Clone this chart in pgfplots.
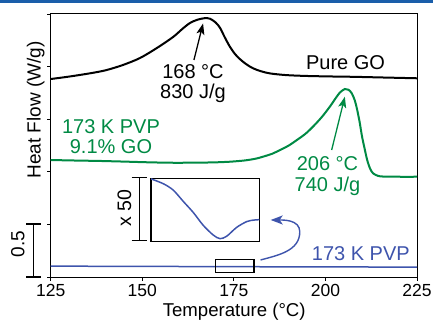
\documentclass[border=0pt]{standalone}
\usepackage{fontspec}
\setmainfont{Liberation Sans}
\usepackage{pgfplots}
\pgfplotsset{compat=1.18}
\usetikzlibrary{arrows.meta}
\definecolor{gocolor}{RGB}{0,138,68}
\definecolor{pvpblue}{RGB}{62,84,172}
\definecolor{headblue}{RGB}{26,94,170}
\begin{document}
\begin{tikzpicture}[x=1pt,y=1pt]
\useasboundingbox (0,0) rectangle (433,321);
\fill[headblue] (0,318.4) rectangle (433,321);
\begin{axis}[
  at={(50.7pt,44pt)}, anchor=south west, scale only axis,
  width=366.3pt, height=263pt,
  xmin=125, xmax=225, ymin=0, ymax=2.5,
  xtick={125,150,175,200,225}, ytick={0,0.5,1,1.5,2,2.5}, yticklabels={},
  tick align=outside, xtick pos=bottom, ytick pos=left, major tick length=3.5pt,
  tick style={black, line width=0.9pt},
  axis line style={line width=1pt},
  /pgf/number format/assume math mode=true,
  ticklabel style={font=\fontsize{17.5}{18}\selectfont},
  clip=false,
]
% Pure GO
\addplot[black, line width=2pt, smooth] coordinates {
(125,1.882) (130,1.905) (135.7,1.936) (140,1.965) (144.7,2.015) (149.4,2.082)
(154,2.177) (158.4,2.281) (161,2.36) (163,2.414) (165,2.445) (167,2.460)
(168.5,2.455) (170,2.42) (171.2,2.37) (172.5,2.28) (173.9,2.19) (175.3,2.12)
(176.7,2.07) (178.5,2.02) (180.3,1.983) (182.5,1.955) (184.9,1.935) (189,1.920)
(193.9,1.912) (200,1.907) (207.5,1.903) (215,1.897) (225,1.889)
};
% 173 K PVP 9.1% GO
\addplot[gocolor, line width=2pt, smooth] coordinates {
(125,1.112) (132,1.107) (138.5,1.103) (145,1.097) (152,1.090) (158.4,1.086)
(165,1.087) (170,1.090) (174,1.096) (178,1.108) (181,1.125) (183,1.144)
(185.5,1.172) (187.6,1.207) (190,1.25) (192.2,1.302) (194.5,1.36) (196.6,1.429)
(199,1.52) (201.2,1.619) (203,1.71) (204,1.755) (205.3,1.787) (206.3,1.78)
(207.2,1.746) (208,1.68) (208.6,1.60) (209.3,1.48) (210,1.334) (210.7,1.22)
(211.4,1.112) (212.2,1.03) (213,0.986) (214.3,0.962) (215.7,0.955) (220,0.953)
(225,0.953)
};
% 173 K PVP
\addplot[pvpblue, line width=1.5pt] coordinates {
(125,0.103) (150,0.101) (175,0.098) (200,0.096) (225,0.094)
};
\draw[line width=1.2pt] (axis cs:170,0.045) rectangle (axis cs:180.5,0.168);
\draw[pvpblue, line width=1.4pt, -{Stealth[length=12pt,width=9pt,inset=3pt]}]
  (axis cs:182.3,0.162) to[out=15,in=-90] (axis cs:193.0,0.43)
  to[out=90,in=0] (axis cs:185.06,0.542);
\draw[black, line width=1.3pt, -{Stealth[length=11pt,width=8pt,inset=2.5pt]}]
  (axis cs:164.1,2.063) -- (axis cs:166.6,2.41);
\draw[gocolor, line width=1.3pt, -{Stealth[length=11pt,width=8pt,inset=2.5pt]}]
  (axis cs:201.7,1.207) -- (axis cs:205.3,1.714);
\tikzset{ann/.style={anchor=base, inner sep=0pt, font=\fontsize{20}{21}\selectfont}}
\node[ann] at (axis cs:163.85,1.889) {168 °C};
\node[ann] at (axis cs:163.85,1.699) {830 J/g};
\node[ann] at (axis cs:205.5,1.977) {Pure GO};
\node[ann, text=gocolor] at (axis cs:141.46,1.366) {173 K PVP};
\node[ann, text=gocolor] at (axis cs:141.46,1.176) {9.1\% GO};
\node[ann, text=gocolor] at (axis cs:200.57,1.008) {206 °C};
\node[ann, text=gocolor] at (axis cs:200.57,0.817) {740 J/g};
\node[ann, text=pvpblue] at (axis cs:209.66,0.155) {173 K PVP};
\end{axis}
\begin{axis}[
  at={(151pt,79.3pt)}, anchor=south west, scale only axis,
  width=108.3pt, height=63.4pt,
  xmin=170, xmax=180, ymin=-0.03, ymax=1.01,
  xtick=\empty, ytick=\empty,
  axis line style={line width=1.2pt},
]
\addplot[pvpblue, line width=1.5pt, smooth] coordinates {
(170,1.0) (171.14,0.921) (172.06,0.815) (172.98,0.631) (173.91,0.448)
(174.83,0.237) (175.75,0.079) (176.37,0.02) (176.99,0.06) (177.91,0.205)
(178.84,0.300) (179.5,0.325) (180,0.331)
};
\end{axis}
% scale bars and labels
\draw[line width=1.1pt] (33.3,44) -- (33.3,97) (26,44) -- (40.6,44) (26,97) -- (40.6,97);
\node[rotate=90, anchor=base, inner sep=0pt, font=\fontsize{19}{20}\selectfont] at (24.3,77) {0.5};
\draw[line width=1.1pt] (139.3,80.3) -- (139.3,143.7) (131.7,80.3) -- (146.7,80.3) (131.7,143.7) -- (146.7,143.7);
\node[rotate=90, anchor=base, inner sep=0pt, font=\fontsize{19.5}{20}\selectfont] at (131,112.7) {x 50};
\node[rotate=90, anchor=base, inner sep=0pt, font=\fontsize{19}{20}\selectfont] at (40.7,211) {Heat Flow (W/g)};
\node[anchor=base, inner sep=0pt, font=\fontsize{18.6}{20}\selectfont] at (234.2,4.3) {Temperature (°C)};
\end{tikzpicture}
\end{document}
